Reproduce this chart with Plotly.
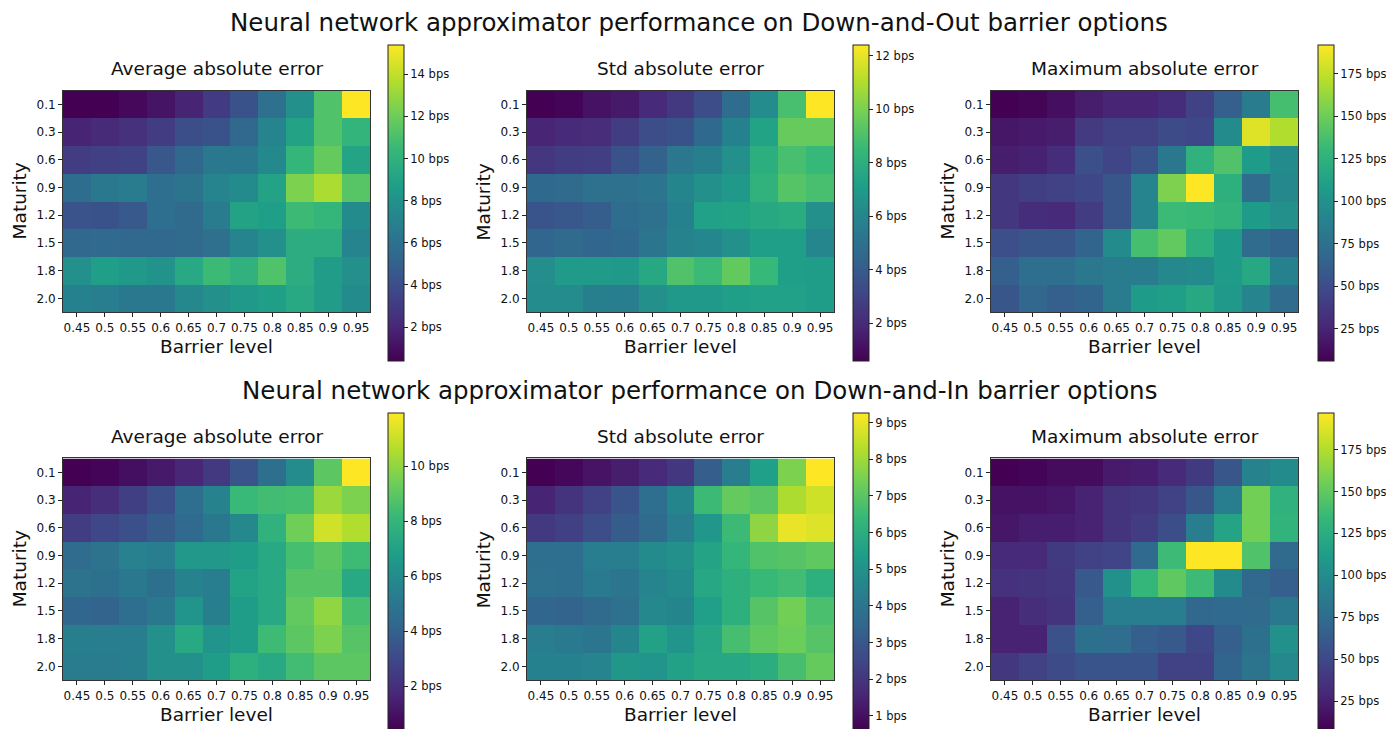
import plotly.graph_objects as go

barrier_levels = ["0.45", "0.5", "0.55", "0.6", "0.65", "0.7", "0.75", "0.8", "0.85", "0.9", "0.95"]
maturities = ["0.1", "0.3", "0.6", "0.9", "1.2", "1.5", "1.8", "2.0"]

# Down-and-Out (bps)
do_avg = [
    [0.4, 0.4, 0.7, 1.2, 1.9, 3.0, 4.2, 6.0, 7.9, 11.2, 15.4],
    [1.9, 2.2, 2.5, 3.1, 4.0, 4.2, 5.4, 7.2, 9.0, 11.2, 10.2],
    [3.1, 3.3, 3.4, 4.5, 5.4, 6.4, 6.4, 7.5, 10.3, 11.8, 9.1],
    [5.7, 6.4, 6.7, 5.8, 6.1, 7.2, 7.6, 9.0, 12.4, 13.5, 11.4],
    [4.3, 4.2, 4.6, 5.8, 5.6, 6.7, 9.0, 8.8, 10.6, 10.3, 7.6],
    [5.4, 5.5, 5.4, 5.4, 5.6, 5.9, 7.2, 7.9, 9.7, 9.7, 7.2],
    [7.9, 8.8, 8.4, 8.1, 9.4, 10.6, 10.0, 11.2, 9.7, 8.6, 7.9],
    [7.0, 6.8, 6.4, 6.4, 7.4, 7.9, 8.4, 8.8, 9.4, 8.6, 7.6],
]
do_std = [
    [0.6, 0.7, 1.2, 1.4, 2.0, 2.6, 3.4, 4.8, 6.3, 8.9, 12.4],
    [1.8, 2.0, 2.1, 2.7, 3.4, 3.6, 4.6, 5.8, 7.4, 9.6, 9.6],
    [2.5, 2.7, 2.8, 3.6, 4.3, 5.3, 5.7, 6.5, 8.0, 8.9, 8.5],
    [4.6, 4.7, 5.0, 5.0, 5.2, 6.0, 6.5, 6.9, 8.2, 9.2, 8.9],
    [3.7, 3.8, 4.1, 4.8, 5.0, 5.8, 7.3, 7.4, 7.7, 7.9, 6.5],
    [4.5, 4.7, 4.5, 4.6, 5.2, 5.9, 6.1, 6.5, 7.2, 7.2, 6.1],
    [6.4, 7.0, 7.0, 6.9, 7.7, 9.1, 8.6, 9.5, 8.5, 7.2, 7.1],
    [6.3, 6.3, 5.7, 5.6, 6.5, 6.9, 6.9, 7.2, 7.3, 7.3, 7.1],
]
do_max = [
    [6, 8, 13, 21, 25, 25, 30, 43, 62, 84, 136],
    [17, 19, 21, 38, 43, 43, 49, 47, 95, 183, 170],
    [21, 23, 30, 52, 45, 54, 80, 125, 140, 108, 95],
    [36, 41, 43, 47, 56, 90, 155, 192, 123, 71, 93],
    [36, 30, 28, 39, 56, 90, 132, 131, 127, 108, 99],
    [51, 56, 56, 66, 95, 136, 146, 123, 108, 71, 66],
    [62, 73, 73, 80, 84, 84, 93, 95, 108, 118, 88],
    [56, 67, 62, 66, 84, 108, 110, 118, 105, 90, 71],
]

# Down-and-In (bps)
di_avg = [
    [0.45, 0.55, 0.9, 1.25, 1.7, 2.4, 3.4, 4.7, 6.0, 9.0, 11.95],
    [1.6, 1.95, 2.6, 3.3, 4.6, 5.6, 8.2, 8.4, 8.5, 10.2, 9.65],
    [2.5, 2.95, 3.3, 3.8, 4.4, 5.05, 5.85, 7.8, 9.4, 11.15, 10.6],
    [4.5, 4.8, 5.5, 5.3, 6.55, 6.55, 6.8, 7.35, 8.5, 9.0, 8.3],
    [4.8, 4.7, 5.05, 4.7, 5.6, 5.3, 7.1, 7.35, 8.85, 8.85, 7.35],
    [4.25, 4.1, 4.6, 5.05, 6.4, 5.4, 6.8, 7.35, 9.1, 10.0, 8.5],
    [5.4, 5.3, 5.3, 6.2, 7.35, 6.4, 6.8, 8.3, 9.0, 9.65, 8.85],
    [5.2, 5.2, 5.4, 6.2, 6.2, 6.8, 7.7, 7.35, 8.4, 9.0, 9.0],
]
di_std = [
    [0.65, 0.8, 1.1, 1.35, 1.7, 2.05, 3.2, 4.35, 5.5, 7.55, 9.27],
    [1.5, 1.95, 2.35, 2.9, 3.75, 4.6, 6.5, 7.2, 7.0, 8.2, 8.65],
    [2.1, 2.3, 2.7, 3.15, 3.65, 4.3, 5.15, 6.5, 7.8, 9.0, 8.85],
    [3.75, 3.75, 4.35, 4.3, 4.8, 4.95, 5.65, 6.35, 6.85, 6.95, 7.1],
    [3.85, 3.75, 4.2, 4.0, 4.55, 4.8, 5.8, 6.1, 6.45, 6.6, 6.1],
    [3.5, 3.4, 3.65, 3.85, 4.7, 4.6, 5.5, 6.1, 6.95, 7.4, 6.75],
    [4.3, 4.2, 4.0, 4.6, 5.55, 5.1, 5.75, 6.7, 7.1, 7.3, 6.95],
    [4.45, 4.45, 4.55, 5.2, 5.1, 5.55, 5.8, 5.8, 6.0, 6.7, 7.2],
]
di_max = [
    [8.5, 10, 14, 14, 22, 24, 31, 41, 59, 93, 99],
    [18, 18, 20, 27, 37, 39, 46, 59, 88, 156, 129],
    [20, 24, 24, 27, 37, 42, 54, 88, 118, 156, 131],
    [31, 31, 41, 46, 48, 73, 137, 197, 197, 144, 74],
    [35, 37, 39, 61, 103, 133, 150, 137, 99, 71, 65],
    [27, 33, 37, 65, 88, 88, 88, 71, 73, 74, 84],
    [27, 27, 56, 78, 76, 65, 61, 50, 65, 78, 103],
    [39, 46, 52, 58, 58, 58, 46, 46, 69, 80, 97],
]

panel_titles = ["Average absolute error", "Std absolute error", "Maximum absolute error"]
main_titles = [
    "Neural network approximator performance on Down-and-Out barrier options",
    "Neural network approximator performance on Down-and-In barrier options",
]
panels = [do_avg, do_std, do_max, di_avg, di_std, di_max]
cbar_ticks = [
    [2, 4, 6, 8, 10, 12, 14],
    [2, 4, 6, 8, 10, 12],
    [25, 50, 75, 100, 125, 150, 175],
    [2, 4, 6, 8, 10],
    [1, 2, 3, 4, 5, 6, 7, 8, 9],
    [25, 50, 75, 100, 125, 150, 175],
]

# page has an 8px body margin: shift all reference pixel positions by OFF
OFF = 8
W, H = 1394 - OFF, 729 - OFF
FONT = "DejaVu Sans"
col_px = [(63, 370), (527, 834), (991, 1298)]
row_px = [(91, 314), (461, 684)]
cbar_left = [388, 853, 1318]
cbar_top = [45, 415]
cbar_len = 316


def fx(p):
    return (p - OFF) / W


def fy(p):
    return 1 - (p - OFF) / H


fig = go.Figure()
annotations = []
for i, z in enumerate(panels):
    r, c = divmod(i, 3)
    k = i + 1
    xa = "x" if k == 1 else f"x{k}"
    ya = "y" if k == 1 else f"y{k}"
    fig.add_trace(go.Heatmap(
        z=z, x=barrier_levels, y=maturities,
        colorscale="Viridis", xaxis=xa, yaxis=ya,
        colorbar=dict(
            x=fx(cbar_left[c]), xanchor="left", xpad=0,
            y=fy(cbar_top[r]), yanchor="top", ypad=0,
            lenmode="pixels", len=cbar_len,
            thicknessmode="pixels", thickness=16,
            outlinewidth=1, outlinecolor="#222",
            ticks="outside", ticklen=4, tickcolor="#222",
            tickmode="array", tickvals=cbar_ticks[i],
            ticktext=[f"{v} bps" for v in cbar_ticks[i]],
            tickfont=dict(family=FONT, size=11.5, color="#111"),
        ),
    ))
    axis_common = dict(
        showline=True, mirror=True, linecolor="#333", linewidth=1,
        ticks="outside", ticklen=4, tickcolor="#222", showgrid=False, zeroline=False,
        tickfont=dict(family=FONT, size=12, color="#111"),
    )
    fig.layout[f"xaxis{'' if k == 1 else k}"] = dict(
        domain=[fx(col_px[c][0]), fx(col_px[c][1])], anchor=ya, type="category", **axis_common)
    fig.layout[f"yaxis{'' if k == 1 else k}"] = dict(
        domain=[fy(row_px[r][1]), fy(row_px[r][0])], anchor=xa, type="category",
        autorange="reversed", **axis_common)
    cx = (col_px[c][0] + col_px[c][1]) / 2
    annotations.append(dict(text=panel_titles[c], x=fx(cx), y=fy(row_px[r][0] - 22),
                            xref="paper", yref="paper", showarrow=False,
                            xanchor="center", yanchor="middle",
                            font=dict(family=FONT, size=18.5, color="#111")))
    annotations.append(dict(text="Barrier level", x=fx(cx), y=fy(row_px[r][1] + 34),
                            xref="paper", yref="paper", showarrow=False,
                            xanchor="center", yanchor="middle",
                            font=dict(family=FONT, size=18.5, color="#111")))
    annotations.append(dict(text="Maturity", x=fx(col_px[c][0] - 44),
                            y=fy((row_px[r][0] + row_px[r][1]) / 2),
                            xref="paper", yref="paper", showarrow=False, textangle=-90,
                            xanchor="center", yanchor="middle",
                            font=dict(family=FONT, size=18.5, color="#111")))

for r, t in enumerate(main_titles):
    annotations.append(dict(text=t, x=fx(699), y=fy(23 + 370 * r), xref="paper", yref="paper",
                            showarrow=False, xanchor="center", yanchor="middle",
                            font=dict(family=FONT, size=24.5, color="#111")))

fig.update_layout(
    width=W, height=H, margin=dict(l=0, r=0, t=0, b=0),
    paper_bgcolor="white", plot_bgcolor="white",
    annotations=annotations, font=dict(family=FONT),
)
fig.write_html("out.html")
